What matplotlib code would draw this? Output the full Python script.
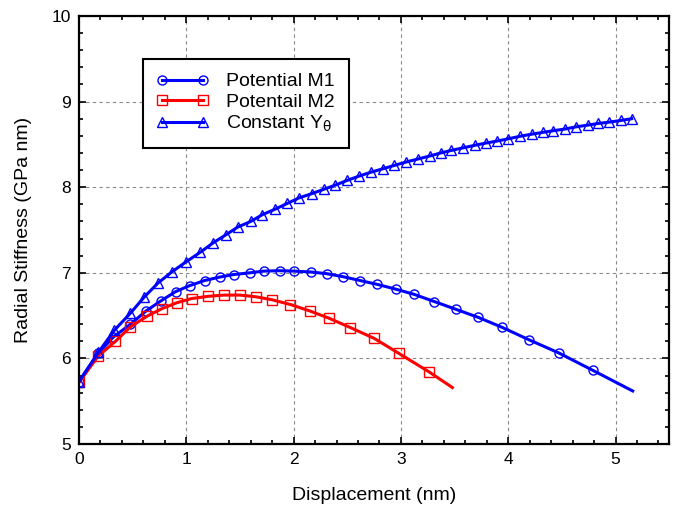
import matplotlib
matplotlib.use('Agg')
import matplotlib.pyplot as plt
from matplotlib.ticker import MultipleLocator

plt.rcParams['font.family'] = ['Liberation Sans', 'DejaVu Sans']

# Potential M1 (circles)
m1_x = [0.0, 0.18, 0.32, 0.48, 0.62, 0.76, 0.90, 1.03, 1.17, 1.31, 1.44, 1.59, 1.72, 1.87, 2.00,
        2.16, 2.31, 2.46, 2.62, 2.78, 2.95, 3.12, 3.31, 3.51, 3.72, 3.94, 4.19, 4.47, 4.79, 5.16]
m1_y = [5.73, 6.06, 6.25, 6.40, 6.55, 6.67, 6.78, 6.85, 6.91, 6.95, 6.98, 7.00, 7.02, 7.025, 7.02,
        7.01, 6.99, 6.955, 6.91, 6.865, 6.81, 6.75, 6.665, 6.575, 6.48, 6.365, 6.22, 6.065, 5.86, 5.62]

# Potentail M2 (squares)
m2_x = [0.0, 0.18, 0.34, 0.48, 0.63, 0.77, 0.91, 1.05, 1.20, 1.35, 1.50, 1.65, 1.80, 1.97, 2.15,
        2.33, 2.53, 2.75, 2.98, 3.26, 3.48]
m2_y = [5.72, 6.03, 6.20, 6.37, 6.49, 6.58, 6.65, 6.70, 6.725, 6.74, 6.74, 6.72, 6.685, 6.63, 6.555,
        6.47, 6.36, 6.235, 6.06, 5.845, 5.66]

# Constant Y_theta (triangles)
yc_x = [0.0, 0.18, 0.33, 0.48, 0.61, 0.74, 0.87, 1.00, 1.13, 1.25, 1.37, 1.48, 1.60, 1.71, 1.83,
        1.94, 2.05, 2.17, 2.28, 2.39, 2.50, 2.61, 2.72, 2.83, 2.94, 3.05, 3.16, 3.27, 3.37, 3.47,
        3.58, 3.69, 3.79, 3.90, 4.00, 4.11, 4.22, 4.32, 4.42, 4.53, 4.63, 4.74, 4.84, 4.94, 5.05, 5.15]
yc_y = [5.73, 6.07, 6.33, 6.53, 6.72, 6.885, 7.015, 7.13, 7.24, 7.35, 7.445, 7.535, 7.60, 7.68, 7.745,
        7.81, 7.875, 7.925, 7.975, 8.025, 8.08, 8.13, 8.175, 8.215, 8.255, 8.295, 8.33, 8.365, 8.40, 8.43,
        8.46, 8.49, 8.515, 8.54, 8.565, 8.595, 8.62, 8.64, 8.66, 8.68, 8.705, 8.725, 8.745, 8.76, 8.78, 8.80]

labels = ['Potential M1', 'Potentail M2', r'Constant Y$_{\mathrm{θ}}$']

fig = plt.figure(figsize=(6.78, 5.11), dpi=100)
ax = fig.add_axes([0.1165, 0.131, 0.8705, 0.8377])

mk = dict(markerfacecolor='none', markersize=6.5, markeredgewidth=1.0, linewidth=2.2)
ax.plot(m1_x, m1_y, color='#0000ff', marker='o', markevery=slice(0, len(m1_x) - 1), label=labels[0], **mk)
ax.plot(m2_x, m2_y, color='#ff0000', marker='s', markevery=slice(0, len(m2_x) - 1), label=labels[1], **mk)
ax.plot(yc_x, yc_y, color='#0000ff', marker='^', label=labels[2], **mk)

ax.set_xlim(0, 5.5)
ax.set_ylim(5, 10)
ax.xaxis.set_major_locator(MultipleLocator(1))
ax.xaxis.set_minor_locator(MultipleLocator(0.2))
ax.yaxis.set_major_locator(MultipleLocator(1))
ax.yaxis.set_minor_locator(MultipleLocator(0.2))
ax.tick_params(which='both', direction='in', top=True, right=True, labelsize=12.5, width=1.2)
ax.tick_params(which='major', length=5, pad=6)
ax.tick_params(which='minor', length=3)
for s in ax.spines.values():
    s.set_linewidth(1.6)
ax.grid(True, which='major', linestyle=(0, (3, 3)), color='#888888', linewidth=0.8)

ax.set_xlabel('Displacement (nm)', fontsize=14, labelpad=14)
ax.set_ylabel('Radial Stiffness (GPa nm)', fontsize=14, labelpad=14)

leg = ax.legend(loc='upper left', bbox_to_anchor=(0.108, 0.899), borderaxespad=0, numpoints=2,
                fontsize=14, fancybox=False, framealpha=1, edgecolor='black', handlelength=2.7,
                borderpad=0.7, labelspacing=0.15, handletextpad=0.9)
leg.get_frame().set_linewidth(1.5)

fig.savefig('out.png', dpi=100)
